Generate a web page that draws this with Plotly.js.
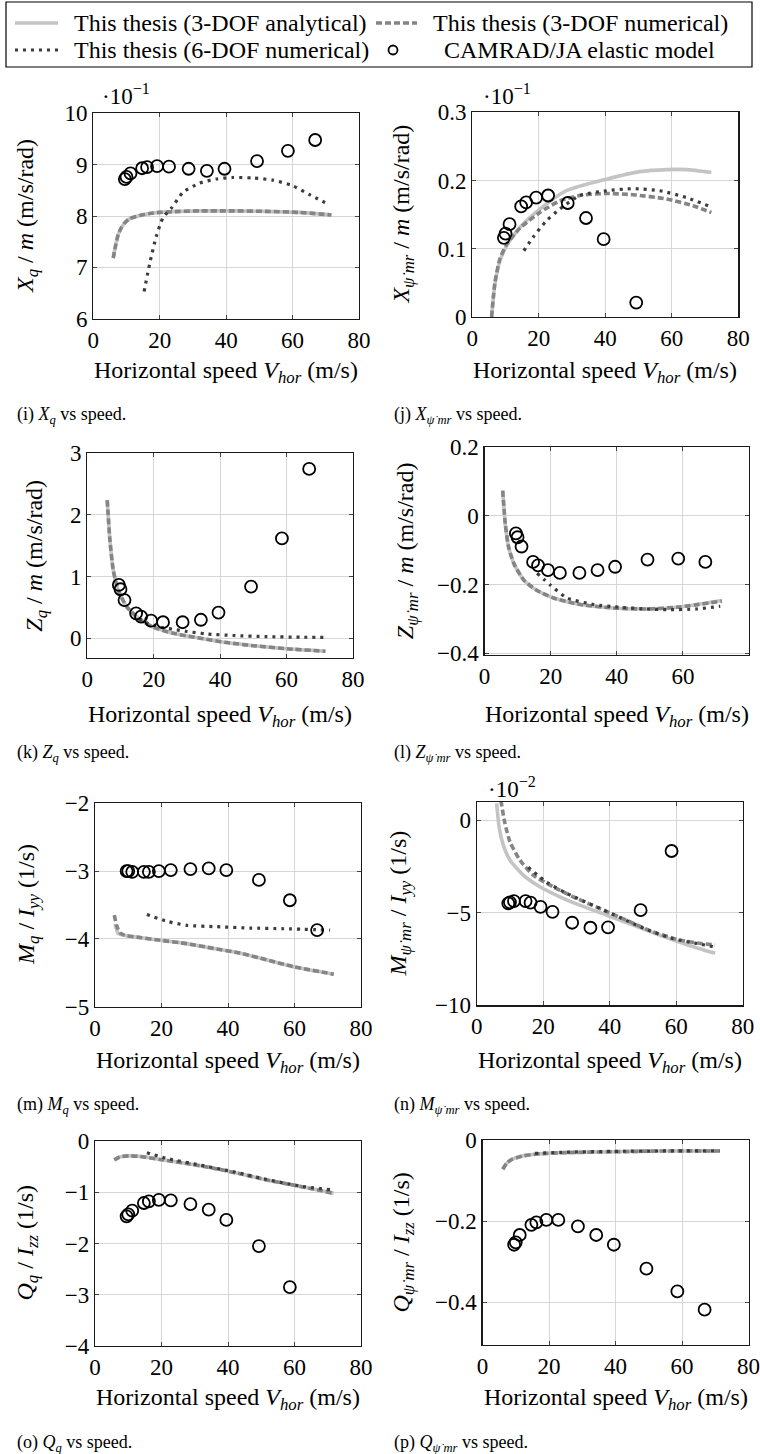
<!DOCTYPE html>
<html>
<head>
<meta charset="utf-8">
<script src="https://cdn.plot.ly/plotly-3.0.1.min.js"></script>
<style>html,body{margin:0;padding:0;background:#fff;}#chart{width:760px;height:1454px;}</style>
</head>
<body>
<div id="chart"></div>
<script>
// ---------------- DATA (values in the units shown on each axis) ----------------
// CAMRAD/JA elastic model speeds (m/s)
const camradSpeed = [9.5, 10.0, 11.2, 14.7, 16.2, 19.2, 22.8, 28.7, 34.2, 39.5, 49.3, 58.6, 66.8];

// (i) Xq/m  (x 10^-1)
const iCamrad = [8.72, 8.76, 8.83, 8.93, 8.95, 8.97, 8.96, 8.92, 8.88, 8.92, 9.07, 9.27, 9.48];
const iSpeed3 = [6.0, 6.8, 7.5, 8.5, 9.5, 11, 14, 17, 20, 26, 32, 42, 52, 62, 71.7];
const iAna = [7.18, 7.45, 7.64, 7.78, 7.87, 7.95, 8.01, 8.05, 8.07, 8.09, 8.10, 8.10, 8.09, 8.07, 8.02];
const iNum = [7.18, 7.45, 7.64, 7.78, 7.87, 7.95, 8.01, 8.05, 8.07, 8.09, 8.10, 8.10, 8.09, 8.07, 8.02];
const iSpeed6 = [15.3, 17, 19, 21, 23.6, 27, 32, 37, 42, 48, 54, 60, 65, 70.7];
const iSix = [6.53, 7.08, 7.61, 7.97, 8.16, 8.46, 8.64, 8.72, 8.75, 8.74, 8.70, 8.59, 8.42, 8.23];

// (j) Xpsi/m  (x 10^-1)
const jCamrad = [0.116, 0.122, 0.136, 0.162, 0.168, 0.175, 0.178, 0.167, 0.145, 0.114, 0.021];
const jSpeedA = [5.8, 6.8, 8.3, 10.3, 14.3, 20.3, 28.3, 40.4, 50.4, 58.4, 64.4, 71.9];
const jAna = [0.0, 0.048, 0.082, 0.104, 0.131, 0.158, 0.185, 0.202, 0.213, 0.216, 0.216, 0.212];
const jSpeedN = [5.8, 6.8, 8.3, 10.3, 14.3, 20.3, 26.3, 32.3, 40.4, 48.4, 58.4, 66.4, 71.9];
const jNum = [0.0, 0.05, 0.085, 0.106, 0.130, 0.153, 0.170, 0.178, 0.181, 0.179, 0.173, 0.163, 0.153];
const jSpeed6 = [15.5, 18.3, 22.3, 26.3, 32.3, 40.4, 48.4, 56.4, 64.4, 71.4];
const jSix = [0.097, 0.117, 0.141, 0.158, 0.178, 0.185, 0.188, 0.185, 0.175, 0.162];

// (k) Zq/m
const kCamrad = [0.865, 0.795, 0.62, 0.405, 0.35, 0.286, 0.26, 0.26, 0.30, 0.416, 0.838, 1.62, 2.746];
const kSpeed3 = [6.0, 6.8, 7.8, 9.3, 11.9, 15.9, 19.9, 25.9, 34, 42, 50, 60, 71.7];
const kAna = [2.24, 1.60, 1.11, 0.78, 0.51, 0.30, 0.18, 0.08, 0.0, -0.07, -0.12, -0.17, -0.21];
const kNum = [2.24, 1.60, 1.11, 0.78, 0.51, 0.30, 0.18, 0.08, 0.0, -0.07, -0.12, -0.17, -0.21];
const kSpeed6 = [15.5, 18, 20, 23, 26, 30, 36, 44, 54, 64, 71.7];
const kSix = [0.32, 0.25, 0.21, 0.17, 0.145, 0.11, 0.07, 0.045, 0.027, 0.017, 0.016];

// (l) Zpsi/m
const lCamrad = [-0.051, -0.062, -0.089, -0.134, -0.144, -0.158, -0.166, -0.166, -0.158, -0.148, -0.127, -0.124, -0.134];
const lSpeed3 = [5.5, 6.3, 7.3, 8.9, 11.9, 15.9, 20.9, 29, 39, 49, 59, 71.8];
const lAna = [0.074, -0.024, -0.091, -0.139, -0.187, -0.217, -0.239, -0.258, -0.268, -0.271, -0.265, -0.246];
const lNum = [0.074, -0.024, -0.091, -0.139, -0.187, -0.217, -0.239, -0.258, -0.268, -0.271, -0.265, -0.248];
const lSpeed6 = [15.9, 19.9, 25, 33, 41, 49, 56, 64, 71.3];
const lSix = [-0.167, -0.201, -0.239, -0.258, -0.266, -0.271, -0.273, -0.271, -0.263];

// (m) Mq/Iyy
const mCamrad = [-3.0, -3.0, -3.01, -3.01, -3.01, -3.0, -2.985, -2.97, -2.96, -2.985, -3.13, -3.43, -3.87];
const mSpeedA = [6.0, 7.0, 9.0, 13.5, 19.6, 27.6, 35.6, 43.7, 51.7, 59.7, 71.8];
const mAna = [-3.78, -3.92, -3.95, -3.98, -4.02, -4.07, -4.14, -4.21, -4.31, -4.41, -4.52];
const mSpeedN = [5.8, 6.5, 7.5, 9.0, 13.5, 19.6, 27.6, 35.6, 43.7, 51.7, 59.7, 71.8];
const mNum = [-3.65, -3.80, -3.91, -3.95, -3.98, -4.02, -4.07, -4.14, -4.21, -4.31, -4.41, -4.52];
const mSpeed6 = [15.6, 21.6, 27.6, 36.6, 46.7, 56.7, 70.7];
const mSix = [-3.64, -3.74, -3.80, -3.82, -3.84, -3.85, -3.87];

// (n) Mpsi/Iyy  (x 10^-2)
const nCamrad = [-4.50, -4.44, -4.37, -4.37, -4.46, -4.68, -4.95, -5.54, -5.81, -5.79, -4.86, -1.67];
const nSpeedA = [6.0, 6.8, 8.0, 10.0, 14, 19, 25, 31, 39, 47, 55, 63, 71.7];
const nAna = [0.90, -0.45, -1.35, -2.16, -2.97, -3.60, -4.14, -4.59, -5.13, -5.67, -6.21, -6.71, -7.19];
const nSpeedN = [6.5, 7.5, 8.5, 10, 13, 17, 23, 29, 37, 45, 53, 61, 67, 71.7];
const nNum = [2.0, 0.81, -0.18, -1.17, -2.16, -2.97, -3.60, -4.14, -4.77, -5.40, -6.03, -6.47, -6.65, -6.74];
const nSpeed6 = [15.5, 21, 27, 35, 43, 51, 59, 66, 71.7];
const nSix = [-2.55, -3.35, -3.95, -4.60, -5.25, -5.90, -6.40, -6.65, -6.85];

// (o) Qq/Izz
const oCamrad = [-1.47, -1.43, -1.36, -1.21, -1.18, -1.15, -1.16, -1.23, -1.34, -1.54, -2.05, -2.85];
const oSpeed3 = [5.8, 7.5, 10.5, 14.6, 19.6, 27.6, 35.6, 43.7, 51.7, 59.7, 71.8];
const oAna = [-0.37, -0.31, -0.29, -0.31, -0.36, -0.44, -0.53, -0.64, -0.76, -0.86, -1.02];
const oNum = [-0.37, -0.31, -0.29, -0.31, -0.36, -0.44, -0.53, -0.64, -0.76, -0.86, -1.02];
const oSpeed6 = [15.6, 21.6, 31.6, 41.6, 51.7, 61.7, 70.7];
const oSix = [-0.23, -0.34, -0.47, -0.60, -0.75, -0.88, -0.95];

// (p) Qpsi/Izz
const pCamrad = [-0.258, -0.252, -0.234, -0.209, -0.203, -0.197, -0.197, -0.213, -0.234, -0.258, -0.317, -0.373, -0.418];
const pSpeed3 = [6.1, 7.3, 8.8, 12.3, 17.3, 25.3, 39.3, 54.3, 71.3];
const pAna = [-0.072, -0.057, -0.048, -0.039, -0.034, -0.031, -0.029, -0.027, -0.027];
const pNum = [-0.072, -0.057, -0.048, -0.039, -0.034, -0.031, -0.029, -0.027, -0.027];
const pSpeed6 = [15.8, 25.3, 39.3, 54.3, 71.3];
const pSix = [-0.033, -0.030, -0.028, -0.027, -0.027];

const yTickVals = {
  i: [6, 7, 8, 9, 10], j: [0, 0.1, 0.2, 0.3], k: [0, 1, 2, 3], l: [-0.4, -0.2, 0, 0.2],
  m: [-5, -4, -3, -2], n: [-10, -5, 0], o: [-4, -3, -2, -1, 0], p: [-0.4, -0.2, 0]
};
const xTickVals = [0, 20, 40, 60, 80];

// ---------------- LAYOUT ----------------
const W = 760, H = 1454;
const FONT = '"Liberation Serif", "Times New Roman", Times, serif';
const px = v => v / W;
const py = v => 1 - v / H;

const panels = [
  {id:'i', box:[93.3, 359, 113.3, 318.7], yr:[6, 10], ytitle:'<i>X<sub>q</sub></i> / <i>m</i> (m/s/rad)', tx:27, cap:'(i) <i>X<sub>q</sub></i> vs speed.', capx:15, capy:415, xty:372, exp:'·10<sup>−1</sup>', expx:100, expy:95,
   ana:[iSpeed3,iAna], num:[iSpeed3,iNum], six:[iSpeed6,iSix], cam:[camradSpeed,iCamrad]},
  {id:'j', box:[472.3, 738.3, 112.3, 316.9], yr:[0, 0.3], ytitle:'<i>X<sub>ψ̇ mr</sub></i> / <i>m</i> (m/s/rad)', tx:403, cap:'(j) <i>X<sub>ψ̇ mr</sub></i> vs speed.', capx:392, capy:415, xty:372, exp:'·10<sup>−1</sup>', expx:481, expy:95,
   ana:[jSpeedA,jAna], num:[jSpeedN,jNum], six:[jSpeed6,jSix], cam:[camradSpeed.slice(0,11),jCamrad]},
  {id:'k', box:[87.3, 353, 453.3, 658], yr:[-0.32, 3], ytitle:'<i>Z<sub>q</sub></i> / <i>m</i> (m/s/rad)', tx:36, cap:'(k) <i>Z<sub>q</sub></i> vs speed.', capx:15, capy:753, xty:716,
   ana:[kSpeed3,kAna], num:[kSpeed3,kNum], six:[kSpeed6,kSix], cam:[camradSpeed,kCamrad]},
  {id:'l', box:[484.5, 749, 447.3, 655], yr:[-0.405, 0.2], ytitle:'<i>Z<sub>ψ̇ mr</sub></i> / <i>m</i> (m/s/rad)', tx:407, cap:'(l) <i>Z<sub>ψ̇ mr</sub></i> vs speed.', capx:392, capy:753, xty:716,
   ana:[lSpeed3,lAna], num:[lSpeed3,lNum], six:[lSpeed6,lSix], cam:[camradSpeed,lCamrad]},
  {id:'m', box:[95, 361, 803.3, 1006.7], yr:[-5, -2], ytitle:'<i>M<sub>q</sub></i> / <i>I<sub>yy</sub></i> (1/s)', tx:28, cap:'(m) <i>M<sub>q</sub></i> vs speed.', capx:15, capy:1105, xty:1062,
   ana:[mSpeedA,mAna], num:[mSpeedN,mNum], six:[mSpeed6,mSix], cam:[camradSpeed,mCamrad]},
  {id:'n', box:[476.7, 742.7, 801.7, 1005.4], yr:[-10, 0.99], ytitle:'<i>M<sub>ψ̇ mr</sub></i> / <i>I<sub>yy</sub></i> (1/s)', tx:400, cap:'(n) <i>M<sub>ψ̇ mr</sub></i> vs speed.', capx:392, capy:1105, xty:1062, exp:'·10<sup>−2</sup>', expx:486, expy:787,
   ana:[nSpeedA,nAna], num:[nSpeedN,nNum], six:[nSpeed6,nSix], cam:[camradSpeed.slice(0,12),nCamrad]},
  {id:'o', box:[95, 361, 1141, 1346], yr:[-4, 0], ytitle:'<i>Q<sub>q</sub></i> / <i>I<sub>zz</sub></i> (1/s)', tx:26, cap:'(o) <i>Q<sub>q</sub></i> vs speed.', capx:15, capy:1443, xty:1399,
   ana:[oSpeed3,oAna], num:[oSpeed3,oNum], six:[oSpeed6,oSix], cam:[camradSpeed.slice(0,12),oCamrad]},
  {id:'p', box:[482.5, 748.5, 1140, 1345], yr:[-0.505, 0], ytitle:'<i>Q<sub>ψ̇ mr</sub></i> / <i>I<sub>zz</sub></i> (1/s)', tx:402, cap:'(p) <i>Q<sub>ψ̇ mr</sub></i> vs speed.', capx:392, capy:1443, xty:1399,
   ana:[pSpeed3,pAna], num:[pSpeed3,pNum], six:[pSpeed6,pSix], cam:[camradSpeed,pCamrad]}
];

const STY = {
  ana: {color:'#c4c4c4', width:3.6, dash:'solid'},
  num: {color:'#858585', width:3.6, dash:'6px,3px'},
  six: {color:'#3c3c3c', width:3.2, dash:'3px,5px'}
};

const traces = [];
const layout = {
  width: W, height: H,
  margin: {l:0, r:0, t:0, b:0},
  paper_bgcolor: '#fff', plot_bgcolor: '#fff',
  showlegend: false,
  font: {family: FONT, color: '#000', size: 22},
  annotations: [], shapes: []
};

panels.forEach((p, idx) => {
  const n = idx + 1;
  const xa = n === 1 ? 'x' : 'x' + n;
  const ya = n === 1 ? 'y' : 'y' + n;
  const common = {
    showline: true, mirror: 'ticks', linecolor: '#1a1a1a', linewidth: 1.2,
    showgrid: true, gridcolor: '#d6d6d6', gridwidth: 1,
    zeroline: false, ticks: 'inside', ticklen: 4, tickcolor: '#444', tickwidth: 1,
    tickfont: {family: FONT, size: 23, color: '#000'}, tickmode: 'array'
  };
  layout['xaxis' + (n === 1 ? '' : n)] = Object.assign({}, common, {
    domain: [px(p.box[0]), px(p.box[1])], range: [0, 80], anchor: ya,
    tickvals: xTickVals, ticktext: xTickVals.map(String)
  });
  layout['yaxis' + (n === 1 ? '' : n)] = Object.assign({}, common, {
    domain: [py(p.box[3]), py(p.box[2])], range: p.yr, anchor: xa,
    tickvals: yTickVals[p.id]
  });
  [['ana', p.ana], ['num', p.num], ['six', p.six]].forEach(([k, d]) => {
    traces.push({x: d[0], y: d[1], xaxis: xa, yaxis: ya, mode: 'lines', type: 'scatter',
      line: Object.assign({shape: 'spline', smoothing: 0.6}, STY[k]), hoverinfo: 'skip'});
  });
  traces.push({x: p.cam[0], y: p.cam[1], xaxis: xa, yaxis: ya, mode: 'markers', type: 'scatter',
    marker: {symbol: 'circle-open', size: 12, color: '#000', line: {width: 1.8, color: '#000'}}, hoverinfo: 'skip'});

  const cx = (p.box[0] + p.box[1]) / 2, cy = (p.box[2] + p.box[3]) / 2;
  layout.annotations.push({xref:'paper', yref:'paper', x:px(p.tx), y:py(cy), text:p.ytitle, textangle:-90,
    showarrow:false, xanchor:'center', yanchor:'middle', font:{family:FONT, size:24}});
  layout.annotations.push({xref:'paper', yref:'paper', x:px(cx), y:py(p.xty), text:'Horizontal speed <i>V<sub>hor</sub></i> (m/s)',
    showarrow:false, xanchor:'center', yanchor:'middle', font:{family:FONT, size:24}});
  layout.annotations.push({xref:'paper', yref:'paper', x:px(p.capx), y:py(p.capy), text:p.cap,
    showarrow:false, xanchor:'left', yanchor:'middle', font:{family:FONT, size:18}});
  if (p.exp) {
    layout.annotations.push({xref:'paper', yref:'paper', x:px(p.expx), y:py(p.expy), text:p.exp,
      showarrow:false, xanchor:'left', yanchor:'middle', font:{family:FONT, size:23}});
  }
});

// ---------------- LEGEND (drawn box) ----------------
layout.shapes.push({type:'rect', xref:'paper', yref:'paper', x0:px(6), x1:px(752), y0:py(2), y1:py(67), line:{color:'#000', width:1.2}, fillcolor:'rgba(0,0,0,0)'});
const legendItems = [
  {k:'ana', x0:15, x1:58, y:23, tx:72, text:'This thesis (3-DOF analytical)'},
  {k:'num', x0:376, x1:417, y:23, tx:431, text:'This thesis (3-DOF numerical)'},
  {k:'six', x0:15, x1:61, y:50, tx:72, text:'This thesis (6-DOF numerical)'}
];
legendItems.forEach(it => {
  layout.shapes.push({type:'line', xref:'paper', yref:'paper', x0:px(it.x0), x1:px(it.x1), y0:py(it.y), y1:py(it.y),
    line:{color:STY[it.k].color, width:STY[it.k].width, dash:STY[it.k].dash}});
  layout.annotations.push({xref:'paper', yref:'paper', x:px(it.tx), y:py(it.y), text:it.text, showarrow:false,
    xanchor:'left', yanchor:'middle', font:{family:FONT, size:24}});
});
layout.shapes.push({type:'circle', xref:'paper', yref:'paper', x0:px(388.5), x1:px(397.5), y0:py(54.5), y1:py(45.5), line:{color:'#000', width:1.8}});
layout.annotations.push({xref:'paper', yref:'paper', x:px(579), y:py(50), text:'CAMRAD/JA elastic model', showarrow:false,
  xanchor:'center', yanchor:'middle', font:{family:FONT, size:24}});

Plotly.newPlot('chart', traces, layout, {staticPlot: true, displayModeBar: false});
</script>
</body>
</html>
